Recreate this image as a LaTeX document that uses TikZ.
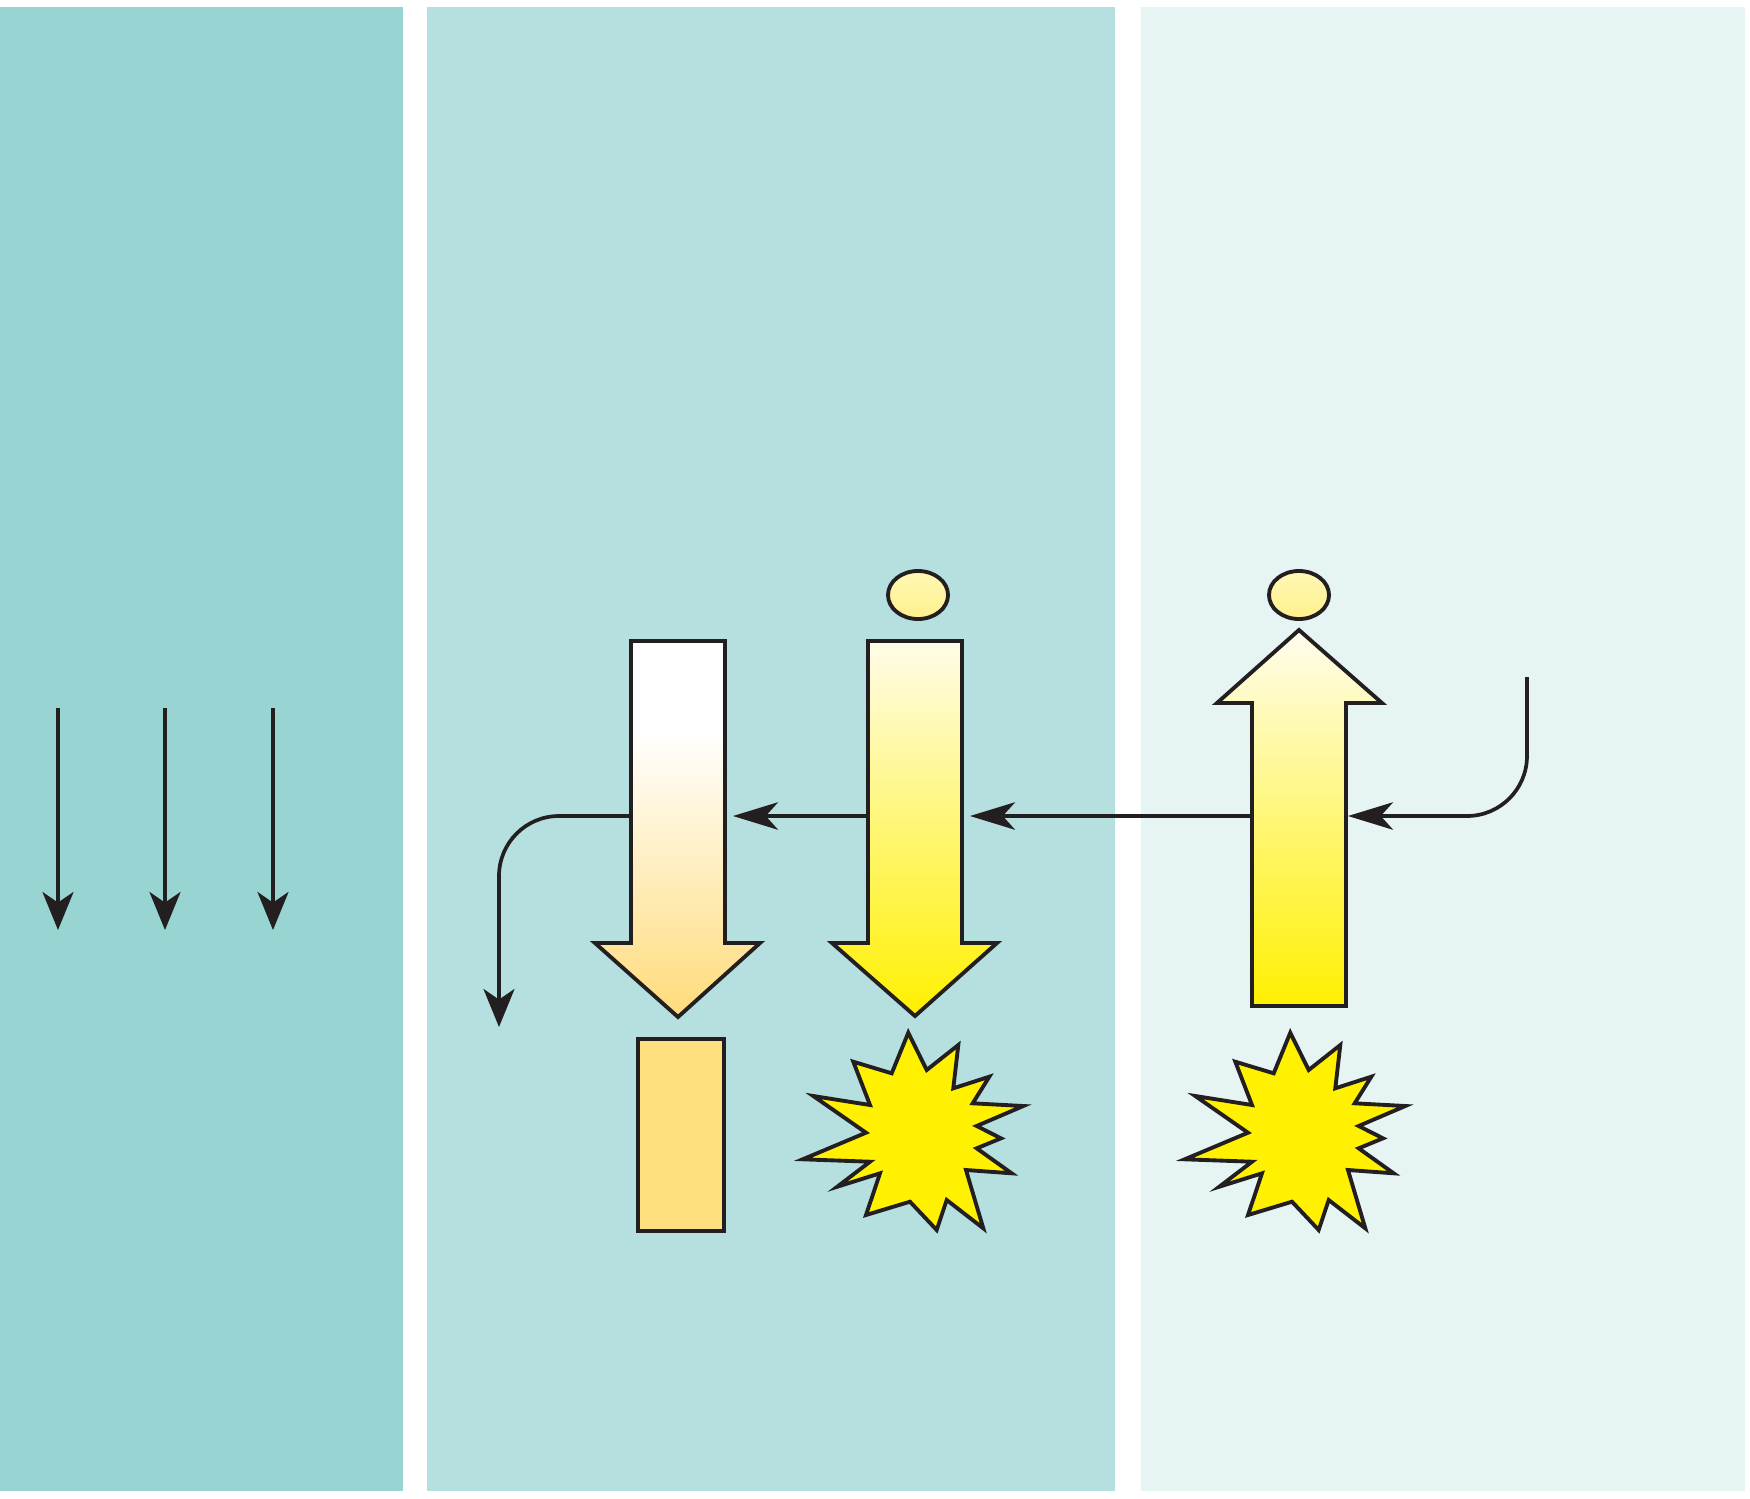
\documentclass[tikz,border=0pt]{standalone}
\usetikzlibrary{arrows.meta,shapes.geometric}
\definecolor{pA}{RGB}{151,212,210}
\definecolor{pB}{RGB}{182,224,223}
\definecolor{pC}{RGB}{231,244,244}
\definecolor{ink}{RGB}{35,31,32}
\definecolor{LO}{RGB}{255,219,122}
\definecolor{YB}{RGB}{255,240,0}
\definecolor{YT}{RGB}{255,252,232}
\definecolor{YT2}{RGB}{255,253,238}
\definecolor{starY}{RGB}{255,241,0}
\definecolor{rectO}{RGB}{255,224,128}
\definecolor{ellT}{RGB}{255,248,180}
\definecolor{ellB}{RGB}{255,240,140}
\pgfdeclareverticalshading{leftshade}{100bp}{color(0bp)=(LO); color(25bp)=(LO); color(63bp)=(white); color(100bp)=(white)}
\begin{document}
\begin{tikzpicture}[x=0.01cm,y=-0.01cm,line join=miter,
  outl/.style={draw=ink,line width=1.1pt},
  conn/.style={draw=ink,line width=1.05pt},
  vtip/.style={-{Stealth[length=10.8pt,width=8.8pt,inset=3pt]}},
  htip/.style={-{Stealth[length=12.8pt,width=7.8pt,inset=3.5pt]}},
  dot/.style={ellipse,outl,top color=ellT,bottom color=ellB,minimum width=0.6cm,minimum height=0.48cm,inner sep=0pt},
  burst/.pic={\draw[outl,fill=starY] (-4.7,-97.3) -- (13.7,-60) -- (45.3,-85) -- (40.3,-41.7) -- (76.3,-53.3) -- (59.7,-26.7) -- (110.3,-24) -- (63.7,-4) -- (88,8.3) -- (63.7,18.3) -- (98.7,43.3) -- (53,40) -- (70.3,98.3) -- (33.7,70) -- (23.7,100) -- (-3,71.7) -- (-47,85) -- (-33,43.3) -- (-75.7,56.7) -- (-43,31.7) -- (-110.3,29.3) -- (-47,2.7) -- (-99.7,-34) -- (-43,-25) -- (-59.7,-68.3) -- (-21.3,-56.7) -- cycle;}]
\useasboundingbox (0,0) rectangle (1750,1499);
% panels
\fill[pA] (0,7) rectangle (403,1491);
\fill[pB] (427,7) rectangle (1115,1491);
\fill[pC] (1141,7) rectangle (1745,1491);
% left panel arrows
\foreach \x [count=\i] in {58,165,273}{
  \coordinate (s\i) at (\x,708);
  \coordinate (e\i) at (\x,930);
  \draw[conn,vtip] (s\i) -- (e\i);
}
% block arrows
\path[outl,shading=leftshade] (631,641) -- (725,641) -- (725,943) -- (760,943) -- (678,1017) -- (595,943) -- (631,943) -- cycle;
\path[outl,top color=YT,bottom color=YB] (868,641) -- (962,641) -- (962,943) -- (997,943) -- (915,1016) -- (832,943) -- (868,943) -- cycle;
\path[outl,top color=YT2,bottom color=YB] (1299,630) -- (1382,703) -- (1346,703) -- (1346,1006) -- (1252,1006) -- (1252,703) -- (1217,703) -- cycle;
% dots
\node[dot] (d1) at (918,595) {};
\node[dot] (d2) at (1299,595) {};
% lower shapes
\node[outl,fill=rectO,minimum width=0.86cm,minimum height=1.92cm,inner sep=0pt] (r1) at (681,1135) {};
\pic (b1) at (913,1130) {burst};
\pic (b2) at (1295,1130) {burst};
% connector coordinates
\coordinate (cin) at (1527,677);
\coordinate (upR) at (1348,816);
\coordinate (upL) at (1252,816);
\coordinate (midR) at (970,816);
\coordinate (midL) at (868,816);
\coordinate (lftR) at (733,816);
\coordinate (lftL) at (630,816);
\coordinate (cout) at (499,1027);
% connectors
\draw[conn,htip,rounded corners=0.6cm] (cin) |- (upR);
\draw[conn,htip] (upL) -- (midR);
\draw[conn,htip] (midL) -- (lftR);
\draw[conn,vtip,rounded corners=0.6cm] (lftL) -| (cout);
\end{tikzpicture}
\end{document}
